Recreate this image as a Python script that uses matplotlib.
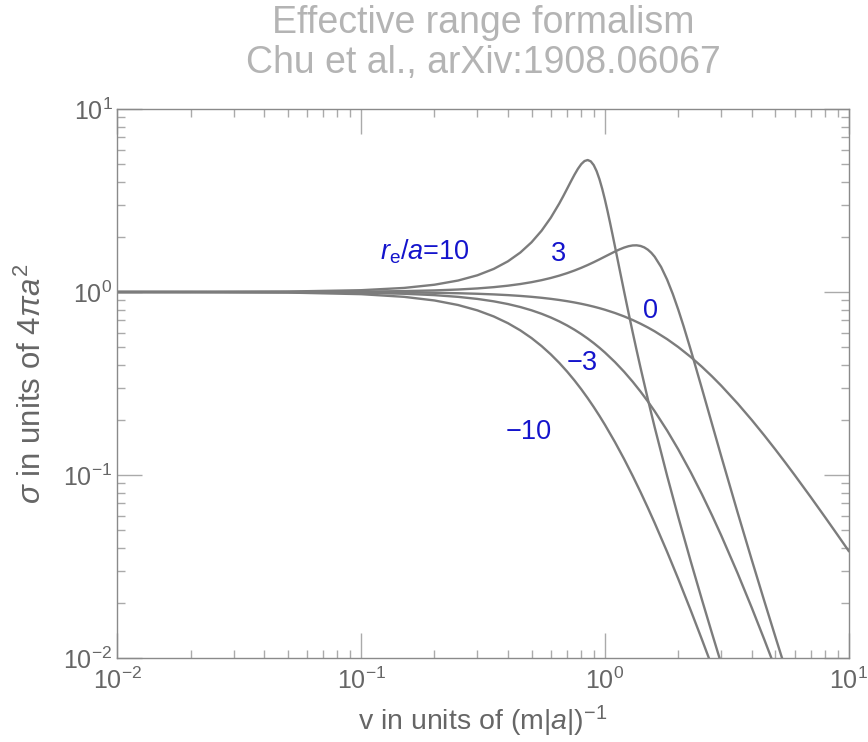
import matplotlib
matplotlib.use("Agg")
import matplotlib.pyplot as plt
from matplotlib.ticker import LogLocator, FixedLocator, NullFormatter

plt.rcParams['font.family'] = ['Liberation Sans', 'DejaVu Sans']
plt.rcParams['mathtext.fontset'] = 'custom'
plt.rcParams['mathtext.rm'] = 'Liberation Sans'
plt.rcParams['mathtext.it'] = 'Liberation Sans:italic'

# velocity (units of (m|a|)^-1) and cross section (units of 4 pi a^2),
# one pair of lists per value of r_e/a
v_p10 = [0.01, 0.02, 0.05, 0.1, 0.15, 0.2, 0.25, 0.3, 0.35, 0.4, 0.45, 0.5,
         0.55, 0.6, 0.65, 0.675, 0.7, 0.725, 0.75, 0.775, 0.8, 0.825, 0.85,
         0.875, 0.9, 0.925, 0.95, 0.975, 1.0, 1.025, 1.05, 1.075, 1.1, 1.15,
         1.2, 1.25, 1.3, 1.35, 1.4, 1.5, 1.6, 1.8, 2.0, 2.25, 2.5, 2.75, 3.0,
         3.5]
sig_p10 = [1.0002, 1.0009, 1.0057, 1.0229, 1.0525, 1.0959, 1.1554, 1.2343,
           1.3372, 1.4706, 1.6435, 1.8686, 2.1629, 2.5478, 3.0461, 3.3421,
           3.6676, 4.0155, 4.3714, 4.7111, 5.0, 5.1969, 5.2629, 5.1746,
           4.9345, 4.5716, 4.1315, 3.6616, 3.2, 2.7716, 2.3889, 2.0554,
           1.7694, 1.3207, 1.0, 0.76978, 0.60235, 0.47864, 0.38573, 0.2599,
           0.18248, 0.09889, 0.05882, 0.033722, 0.020845, 0.013634,
           0.0093186, 0.00481]

v_p3 = [0.01, 0.02, 0.05, 0.1, 0.15, 0.2, 0.25, 0.3, 0.35, 0.4, 0.45, 0.5,
        0.55, 0.6, 0.65, 0.7, 0.75, 0.8, 0.85, 0.9, 0.95, 1.0, 1.1, 1.15, 1.2,
        1.25, 1.3, 1.35, 1.4, 1.45, 1.5, 1.55, 1.6, 1.7, 1.8, 1.9, 2.0, 2.1,
        2.25, 2.5, 2.75, 3.0, 3.5, 4.0, 4.5, 5.0, 5.5, 6.0]
sig_p3 = [1.0001, 1.0002, 1.0013, 1.005, 1.0113, 1.0202, 1.0317, 1.0459,
          1.0629, 1.0827, 1.1056, 1.1315, 1.1606, 1.193, 1.2287, 1.2678,
          1.3102, 1.3558, 1.4042, 1.4551, 1.5076, 1.561, 1.6642, 1.7103,
          1.7495, 1.7791, 1.7965, 1.7991, 1.785, 1.7532, 1.7038, 1.6382,
          1.5586, 1.3708, 1.1679, 0.9731, 0.8, 0.65364, 0.48244, 0.2969,
          0.19007, 0.12673, 0.062588, 0.034483, 0.020602, 0.013091,
          0.0087294, 0.0060514]

v_0 = [0.01, 0.02, 0.05, 0.1, 0.15, 0.2, 0.25, 0.3, 0.35, 0.4, 0.45, 0.5,
       0.55, 0.6, 0.65, 0.7, 0.75, 0.8, 0.85, 0.9, 0.95, 1.0, 1.1, 1.2, 1.3,
       1.4, 1.5, 1.6, 1.8, 2.0, 2.25, 2.5, 2.75, 3.0, 3.5, 4.0, 4.5, 5.0, 5.5,
       6.0, 7.0, 8.0, 9.0, 10.0]
sig_0 = [1.0, 0.9999, 0.99938, 0.99751, 0.99441, 0.9901, 0.98462, 0.978,
         0.97029, 0.96154, 0.95181, 0.94118, 0.9297, 0.91743, 0.90444,
         0.89087, 0.87671, 0.86207, 0.84699, 0.8316, 0.81591, 0.8, 0.76775,
         0.73529, 0.70299, 0.67114, 0.64, 0.60976, 0.55249, 0.5, 0.44138,
         0.39024, 0.34595, 0.30769, 0.24615, 0.2, 0.16495, 0.13793, 0.11679,
         0.1, 0.07547, 0.05882, 0.04706, 0.03846]

v_m3 = v_0[:39]
sig_m3 = [0.9999, 0.9996, 0.99751, 0.99009, 0.97793, 0.96133, 0.94069,
          0.91647, 0.8892, 0.8594, 0.82763, 0.79442, 0.76024, 0.72557,
          0.6908, 0.65627, 0.62228, 0.58907, 0.55682, 0.52569, 0.49578,
          0.46715, 0.41393, 0.36608, 0.32345, 0.2857, 0.2524, 0.22313,
          0.17494, 0.13793, 0.10345, 0.078474, 0.060223, 0.046749, 0.02911,
          0.018868, 0.012672, 0.0087804, 0.0062527]

v_m10 = v_0[:34]
sig_m10 = [0.99973, 0.9989, 0.99316, 0.97309, 0.94103, 0.89888, 0.84891,
           0.79355, 0.73512, 0.67568, 0.61692, 0.56018, 0.50637, 0.4561,
           0.4097, 0.36729, 0.32881, 0.29412, 0.26298, 0.23515, 0.21033,
           0.18824, 0.15117, 0.12195, 0.09891, 0.080694, 0.066235, 0.054705,
           0.038005, 0.027027, 0.018193, 0.012623, 0.0089962, 0.0065654]

curve_labels = ['$r_{\\mathrm{e}}/a$=10', '3', '0', '\u22123', '\u221210']
tick_labels = ['$\\mathregular{10^{-2}}$', '$\\mathregular{10^{-1}}$',
               '$\\mathregular{10^{0}}$', '$\\mathregular{10^{1}}$']

fig = plt.figure(figsize=(8.68, 7.42), dpi=100)
ax = fig.add_axes([117.3 / 868, 1 - 658 / 742, 731.4 / 868, 549 / 742])

line_kw = dict(color='#7c7c7c', lw=1.7)
for xs, ys in [(v_p10, sig_p10), (v_p3, sig_p3), (v_0, sig_0),
               (v_m3, sig_m3), (v_m10, sig_m10)]:
    ax.plot(xs, ys, **line_kw)

ax.set_xscale('log')
ax.set_yscale('log')
ax.set_xlim(1e-2, 10)
ax.set_ylim(1e-2, 10)

decades = [1e-2, 1e-1, 1, 10]
ax.xaxis.set_major_locator(FixedLocator(decades))
ax.yaxis.set_major_locator(FixedLocator(decades))
ax.xaxis.set_minor_locator(LogLocator(base=10, subs=range(2, 10)))
ax.yaxis.set_minor_locator(LogLocator(base=10, subs=range(2, 10)))
ax.xaxis.set_minor_formatter(NullFormatter())
ax.yaxis.set_minor_formatter(NullFormatter())
ax.set_xticklabels(tick_labels)
ax.set_yticklabels(tick_labels)

ax.tick_params(which='both', direction='in', top=True, right=True,
               colors='#aaaaaa', labelcolor='#666666', labelsize=18)
ax.tick_params(which='major', length=18, width=1.0)
ax.tick_params(axis='x', which='major', pad=7)
ax.tick_params(which='minor', length=6, width=1.0)
for s in ax.spines.values():
    s.set_color('#8a8a8a')
    s.set_linewidth(1.0)

ax.set_xlabel('v in units of (m|$a$|)$^{-1}$', fontsize=20.5, color='#666666',
              labelpad=7)
ax.set_ylabel('$\\sigma$ in units of 4$\\pi a^{2}$', fontsize=22.5,
              color='#666666', labelpad=11)

# curve annotations
label_pos = [(0.421, 0.740), (0.603, 0.736), (0.729, 0.632), (0.636, 0.537),
             (0.563, 0.412)]
for txt, (px, py) in zip(curve_labels, label_pos):
    ax.text(px, py, txt, transform=ax.transAxes, color='#1414cc',
            fontsize=19.5, ha='center', va='center')

fig.text(0.557, 1 - 23 / 742, 'Effective range formalism', fontsize=27,
         color='#b4b4b4', ha='center', va='center')
fig.text(0.557, 1 - 63 / 742, 'Chu et al., arXiv:1908.06067', fontsize=27,
         color='#b4b4b4', ha='center', va='center')

fig.savefig('out.png', dpi=100)
